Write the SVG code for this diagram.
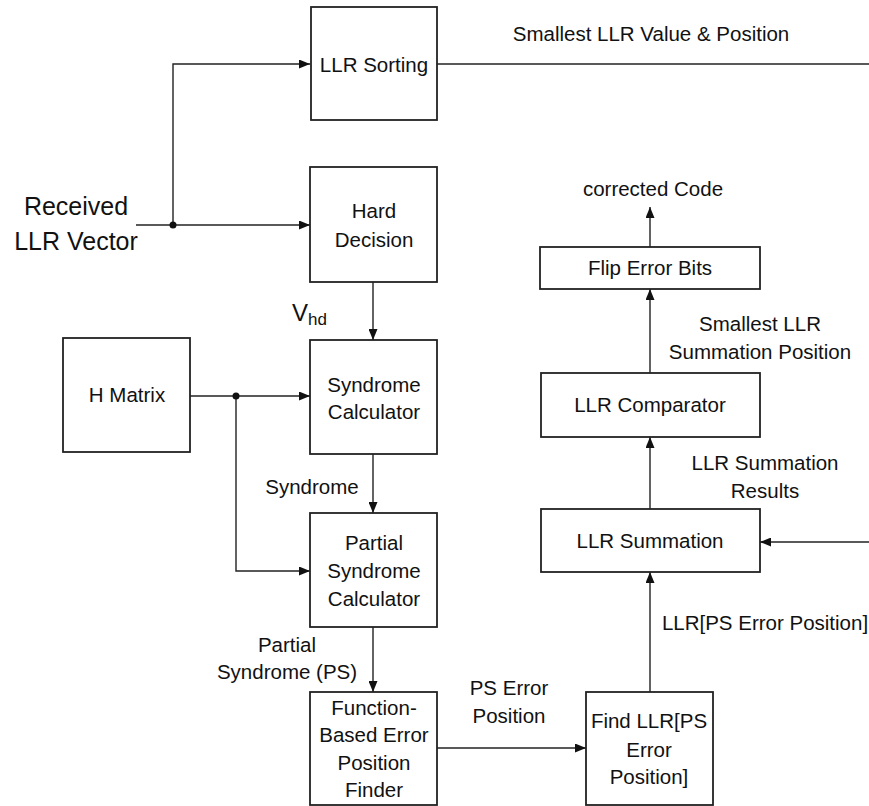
<svg xmlns="http://www.w3.org/2000/svg" width="869" height="806" viewBox="0 0 869 806">
  <defs>
    <marker id="arrow" markerUnits="userSpaceOnUse" markerWidth="11" markerHeight="9" refX="11" refY="4.5" orient="auto">
      <path d="M0,0 L11,4.5 L0,9 z" fill="#111"/>
    </marker>
    <style>
      text { font-family: "Liberation Sans", Arial, sans-serif; font-size: 20.5px; fill: #111; }
      .big { font-size: 25px; }
      .mid { text-anchor: middle; }
      .box { fill: #fff; stroke: #222; stroke-width: 1.8; }
      .wire { fill: none; stroke: #222; stroke-width: 1.4; }
      .arr { marker-end: url(#arrow); }
      .dot { fill: #111; }
    </style>
  </defs>
  <rect width="869" height="806" fill="#fff"/>

  <!-- connectors -->
  <g id="connectors">
    <path class="wire arr" d="M136,225 H310"/>
    <path class="wire arr" d="M173,225 V64 H310"/>
    <path class="wire" d="M437,64 H869"/>
    <path class="wire arr" d="M373,282 V340"/>
    <path class="wire arr" d="M190,396 H310"/>
    <path class="wire arr" d="M236,396 V571 H310"/>
    <path class="wire arr" d="M373,454 V513"/>
    <path class="wire arr" d="M373,627 V692"/>
    <path class="wire arr" d="M437,748 H586"/>
    <path class="wire arr" d="M650,692 V572"/>
    <path class="wire arr" d="M869,542 H760"/>
    <path class="wire arr" d="M650,509 V437"/>
    <path class="wire arr" d="M650,373 V289"/>
    <path class="wire arr" d="M650,247 V207"/>
    <circle class="dot" cx="173" cy="225" r="3.5"/>
    <circle class="dot" cx="236" cy="396" r="3.5"/>
  </g>

  <!-- connector labels -->
  <g id="labels">
    <text class="big mid" x="76" y="215">Received</text>
    <text class="big mid" x="76" y="250">LLR Vector</text>
    <text class="mid" x="651" y="41">Smallest LLR Value &amp; Position</text>
    <text x="292" y="321" style="font-size:24px">V<tspan dy="4" style="font-size:17px">hd</tspan></text>
    <text class="mid" x="312" y="494">Syndrome</text>
    <text class="mid" x="287" y="652">Partial</text>
    <text class="mid" x="287" y="679">Syndrome (PS)</text>
    <text class="mid" x="509" y="695">PS Error</text>
    <text class="mid" x="509" y="723">Position</text>
    <text class="mid" x="765" y="630">LLR[PS Error Position]</text>
    <text class="mid" x="765" y="470">LLR Summation</text>
    <text class="mid" x="765" y="498">Results</text>
    <text class="mid" x="760" y="331">Smallest LLR</text>
    <text class="mid" x="760" y="359">Summation Position</text>
    <text class="mid" x="653" y="196">corrected Code</text>
  </g>

  <g id="llr-sorting">
    <rect class="box" x="311" y="7" width="126" height="113"/>
    <text class="mid" x="374" y="72">LLR Sorting</text>
  </g>

  <g id="hard-decision">
    <rect class="box" x="310" y="167" width="127" height="115"/>
    <text class="mid" x="374" y="218">Hard</text>
    <text class="mid" x="374" y="247">Decision</text>
  </g>

  <g id="h-matrix">
    <rect class="box" x="63" y="338" width="127" height="114"/>
    <text class="mid" x="127" y="402">H Matrix</text>
  </g>

  <g id="syndrome-calculator">
    <rect class="box" x="310" y="340" width="127" height="114"/>
    <text class="mid" x="374" y="392">Syndrome</text>
    <text class="mid" x="374" y="419">Calculator</text>
  </g>

  <g id="partial-syndrome-calculator">
    <rect class="box" x="310" y="513" width="127" height="114"/>
    <text class="mid" x="374" y="550">Partial</text>
    <text class="mid" x="374" y="578">Syndrome</text>
    <text class="mid" x="374" y="606">Calculator</text>
  </g>

  <g id="error-position-finder">
    <rect class="box" x="310" y="692" width="127" height="113"/>
    <text class="mid" x="374" y="715">Function-</text>
    <text class="mid" x="374" y="742">Based Error</text>
    <text class="mid" x="374" y="770">Position</text>
    <text class="mid" x="374" y="797">Finder</text>
  </g>

  <g id="find-llr">
    <rect class="box" x="586" y="692" width="127" height="113"/>
    <text class="mid" x="649" y="728">Find LLR[PS</text>
    <text class="mid" x="649" y="757">Error</text>
    <text class="mid" x="649" y="784">Position]</text>
  </g>

  <g id="llr-summation">
    <rect class="box" x="541" y="509" width="219" height="63"/>
    <text class="mid" x="650" y="548">LLR Summation</text>
  </g>

  <g id="llr-comparator">
    <rect class="box" x="541" y="373" width="219" height="64"/>
    <text class="mid" x="650" y="412">LLR Comparator</text>
  </g>

  <g id="flip-error-bits">
    <rect class="box" x="540" y="247" width="220" height="42"/>
    <text class="mid" x="650" y="275">Flip Error Bits</text>
  </g>
</svg>
